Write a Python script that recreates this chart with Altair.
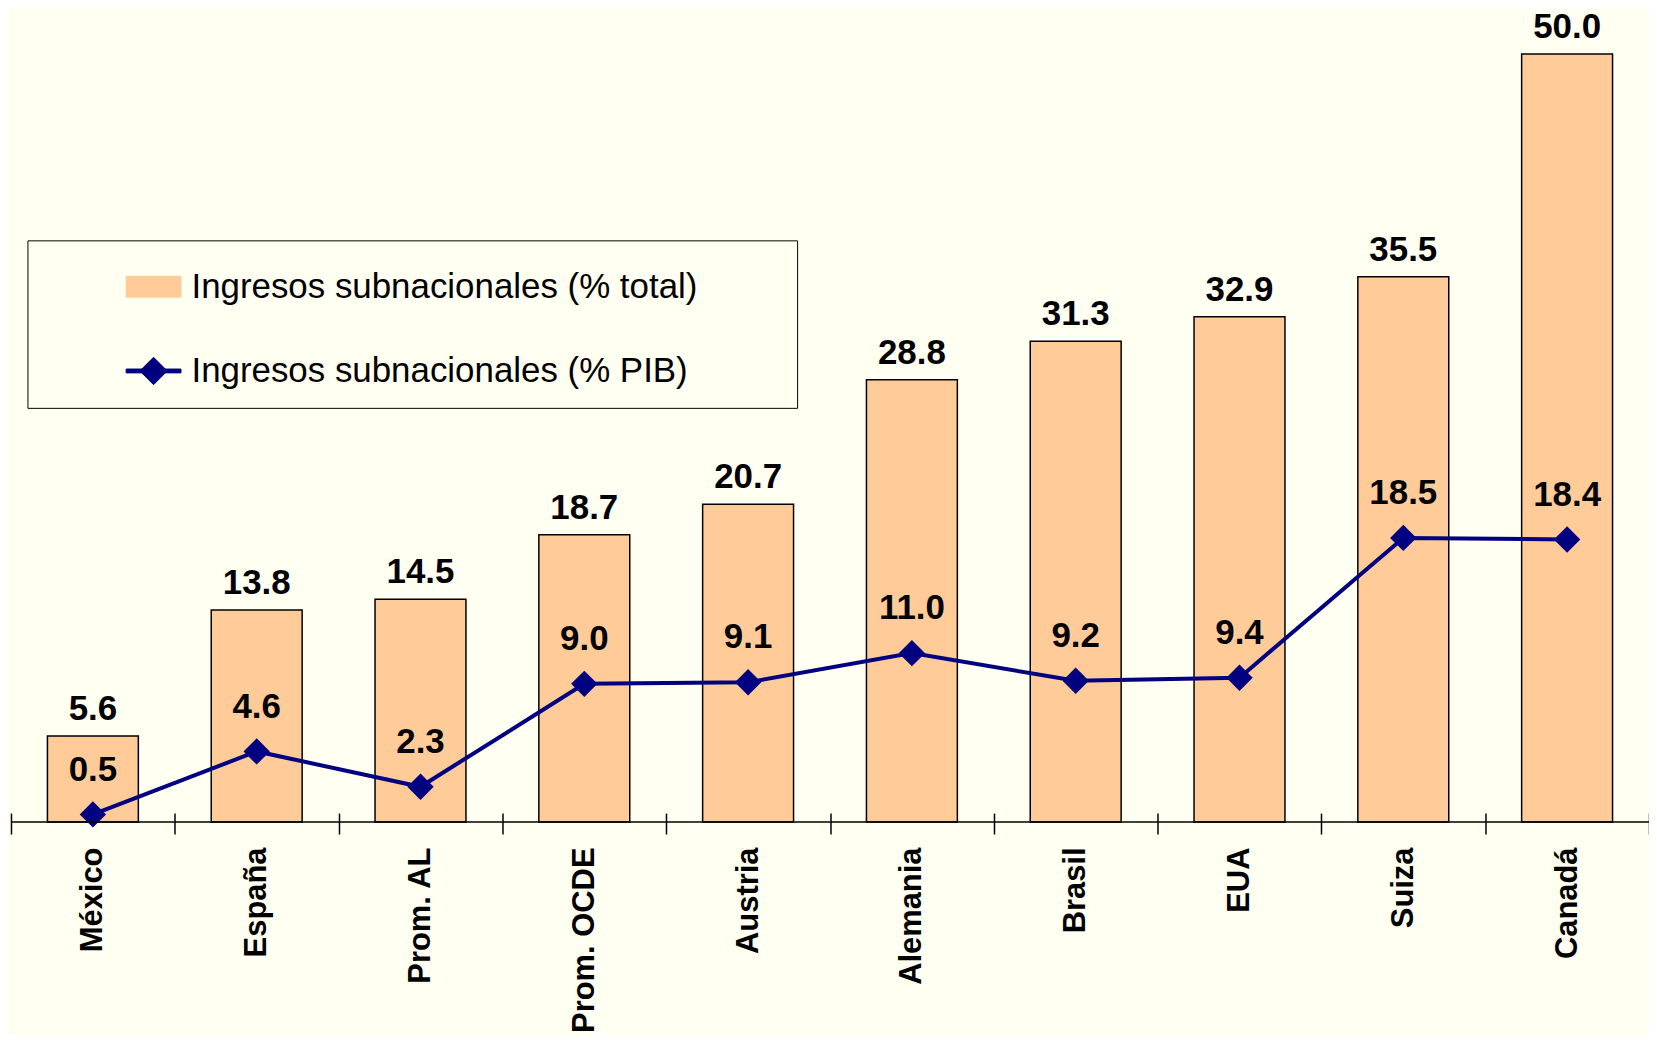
import altair as alt
import pandas as pd

categories = ["México", "España", "Prom. AL", "Prom. OCDE", "Austria",
              "Alemania", "Brasil", "EUA", "Suiza", "Canadá"]
pct_total = [5.6, 13.8, 14.5, 18.7, 20.7, 28.8, 31.3, 32.9, 35.5, 50.0]
pct_pib = [0.5, 4.6, 2.3, 9.0, 9.1, 11.0, 9.2, 9.4, 18.5, 18.4]
series = ["Ingresos subnacionales (% total)", "Ingresos subnacionales (% PIB)"]

df = pd.DataFrame({"pais": categories, "total": pct_total, "pib": pct_pib})
base_df = pd.DataFrame({"v": [0]})

FONT = "Liberation Sans, Arial, sans-serif"
BG = "#FFFFF2"
BAR = "#FFCC99"
NAVY = "#000080"

RECT = "M-1,-0.38L1,-0.38L1,0.38L-1,0.38Z"
LINE_DIAMOND = "M-1,-0.07L1,-0.07L1,0.07L-1,0.07Z M-0.5,0L0,-0.5L0.5,0L0,0.5Z"

x = alt.X(
    "pais:N", sort=categories, title=None,
    scale=alt.Scale(paddingInner=0, paddingOuter=0),
    axis=alt.Axis(domain=False, offset=-9, tickSize=21, tickBand="extent",
                  tickColor="black", tickWidth=1.5, labelAngle=270,
                  labelAlign="right", labelBaseline="middle", labelFont=FONT,
                  labelFontSize=31, labelFontWeight="bold", labelColor="black",
                  labelPadding=13, grid=False, labelLimit=0),
)
yscale = alt.Scale(domain=[0, 52.9], nice=False, zero=True)
color_scale = alt.Scale(domain=series, range=[BAR, NAVY])
shape_scale = alt.Scale(domain=series, range=[RECT, LINE_DIAMOND])

legend = alt.Legend(
    title="\u00a0", titleOrient="right", titlePadding=81, titleFontSize=1,
    orient="none", legendX=16.5, legendY=231.5, padding=18.5,
    rowPadding=38.5, symbolOffset=80, labelOffset=10, labelFont=FONT,
    labelFontSize=35, labelColor="black", labelLimit=0, symbolSize=3025,
    symbolStrokeWidth=1, symbolStrokeColor="black", symbolOpacity=1,
    strokeColor="black", fillColor=BG,
)

s_total = f"'{series[0]}'"
s_pib = f"'{series[1]}'"

bars = alt.Chart(df).transform_calculate(serie=s_total).mark_bar(
    stroke="black", strokeWidth=1.5, width=alt.RelativeBandSize(0.555)).encode(
    x=x,
    y=alt.Y("total:Q", scale=yscale, axis=None),
    color=alt.Color("serie:N", scale=color_scale, legend=legend),
)
bar_text = alt.Chart(df).mark_text(dy=-27, fontSize=35, fontWeight="bold",
                                   font=FONT, color="black").encode(
    x=x, y=alt.Y("total:Q", scale=yscale, axis=None),
    text=alt.Text("total:Q", format=".1f"),
)
line = alt.Chart(df).transform_calculate(serie=s_pib).mark_line(strokeWidth=4).encode(
    x=x, y=alt.Y("pib:Q", scale=yscale, axis=None),
    color=alt.Color("serie:N", scale=color_scale, legend=legend),
)
points = alt.Chart(df).transform_calculate(serie=s_pib).mark_point(
    shape="diamond", filled=True, size=700, opacity=1).encode(
    x=x, y=alt.Y("pib:Q", scale=yscale, axis=None),
    color=alt.Color("serie:N", scale=color_scale, legend=legend),
)
line_text = alt.Chart(df).mark_text(dy=-45, fontSize=35, fontWeight="bold",
                                    font=FONT, color="black").encode(
    x=x, y=alt.Y("pib:Q", scale=yscale, axis=None),
    text=alt.Text("pib:Q", format=".1f"),
)
baseline = alt.Chart(base_df).mark_rule(color="black", strokeWidth=1.5).encode(
    y=alt.Y("v:Q", scale=yscale, axis=None)
)
# legend-only layer (no rows drawn) carrying the shape scale for the legend symbols
legend_layer = alt.Chart(df).transform_calculate(serie=s_pib).transform_filter(
    "false").mark_point(filled=True, opacity=1).encode(
    x=x, y=alt.Y("pib:Q", scale=yscale, axis=None),
    color=alt.Color("serie:N", scale=color_scale, legend=legend),
    shape=alt.Shape("serie:N", scale=shape_scale, legend=legend),
)

chart = alt.layer(bars, bar_text, line, points, line_text, baseline,
                  legend_layer).properties(
    width=1643, height=815,
    padding={"left": 3, "top": 0, "right": 0, "bottom": 212},
    autosize=alt.AutoSizeParams(type="none"),
    background=BG,
).configure_view(stroke=None)

chart.save("out.html", embed_options={"renderer": "svg", "actions": False})
